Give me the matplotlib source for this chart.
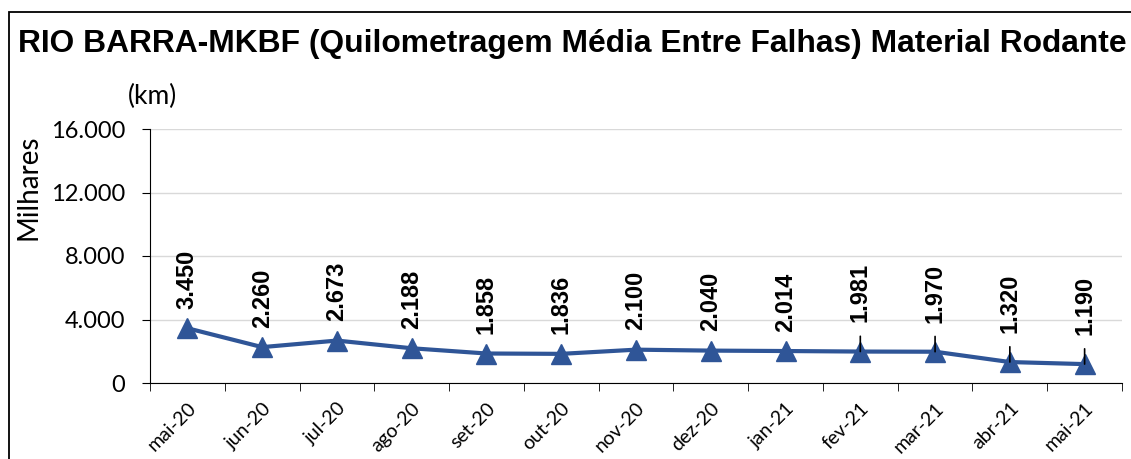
import numpy as np
import matplotlib.pyplot as plt
import matplotlib.transforms as mtransforms
from matplotlib.patches import Rectangle

plt.rcParams['font.family'] = ['Liberation Sans', 'DejaVu Sans']

# data
meses = ['mai-20', 'jun-20', 'jul-20', 'ago-20', 'set-20', 'out-20', 'nov-20',
         'dez-20', 'jan-21', 'fev-21', 'mar-21', 'abr-21', 'mai-21']
mkbf = [3450, 2260, 2673, 2188, 1858, 1836, 2100, 2040, 2014, 1981, 1970, 1320, 1190]
rotulos = ['3.450', '2.260', '2.673', '2.188', '1.858', '1.836', '2.100',
           '2.040', '2.014', '1.981', '1.970', '1.320', '1.190']
yticks = [0, 4000, 8000, 12000, 16000]
ylabels = ['0', '4.000', '8.000', '12.000', '16.000']

cor = '#2F5597'
fonte_eixo = ['Lato', 'DejaVu Sans']

fig = plt.figure(figsize=(11.31, 4.59), dpi=100)
ax = fig.add_axes([150 / 1131, 76 / 459, 972 / 1131, 254 / 459])

# figure border (right side runs off the picture)
fig.patches.append(Rectangle((9 / 1131, -0.1), 1.2, (459 - 12) / 459 + 0.1,
                             transform=fig.transFigure, fill=False,
                             edgecolor='black', linewidth=1.3))

x = np.arange(len(meses))
ax.plot(x, mkbf, color=cor, linewidth=3, marker='^', markersize=15,
        markerfacecolor=cor, markeredgecolor=cor, zorder=3)

# data labels, later points have short leader lines
for i, (v, r) in enumerate(zip(mkbf, rotulos)):
    off = 14 if i < 9 else 21
    ax.annotate(r, (i, v), xytext=(0, off), textcoords='offset points',
                rotation=90, ha='center', va='bottom', fontsize=17,
                fontweight='bold', color='black', zorder=4)
    if i >= 9:
        ax.annotate('', (i, v), xytext=(0, 11), textcoords='offset points',
                    arrowprops=dict(arrowstyle='-', color='black', lw=1.2,
                                    shrinkA=0, shrinkB=0), zorder=4)

ax.set_xlim(-0.5, len(meses) - 0.5)
ax.set_ylim(0, 16000)
ax.set_yticks(yticks)
ax.set_yticklabels(ylabels, fontsize=17, family=fonte_eixo)
ax.set_xticks(x)
ax.set_xticklabels(meses, rotation=45, ha='right', va='top',
                   rotation_mode='anchor', fontsize=14, family=fonte_eixo)
desloc = mtransforms.ScaledTranslation(-3 / 100, -4 / 100, fig.dpi_scale_trans)
for lbl in ax.get_xticklabels():
    lbl.set_transform(lbl.get_transform() + desloc)
ax.set_xticks(np.arange(-0.5, len(meses)), minor=True)
ax.tick_params(axis='x', which='major', length=0, pad=12)
ax.tick_params(axis='x', which='minor', length=6, direction='out')
ax.tick_params(axis='y', length=6, direction='out', pad=12)
ax.grid(axis='y', color='#D9D9D9', linewidth=1)
ax.set_axisbelow(True)
ax.spines['top'].set_visible(False)
ax.spines['right'].set_visible(False)
ax.spines['left'].set_color('black')
ax.spines['bottom'].set_color('black')

ax.set_ylabel('Milhares', fontsize=20, family=fonte_eixo)
ax.yaxis.set_label_coords(-0.112, 0.772)
fig.text(128 / 1131, 1 - 96 / 459, '(km)', fontsize=19, va='center',
         ha='left', family=fonte_eixo)
fig.text(18 / 1131, 1 - 44 / 459,
         'RIO BARRA-MKBF (Quilometragem Média Entre Falhas) Material Rodante',
         fontsize=22.9, fontweight='bold', va='center', ha='left')

fig.savefig('out.png', dpi=100)
